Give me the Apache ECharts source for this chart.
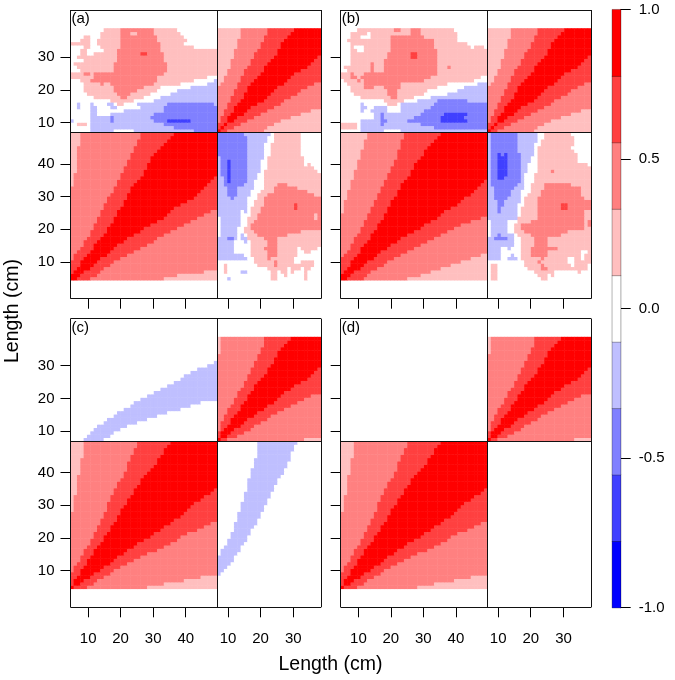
<!DOCTYPE html>
<html>
<head>
<meta charset="utf-8">
<style>html,body{margin:0;padding:0;background:#fff}#c{width:675px;height:680px}</style>
<script src="https://cdn.jsdelivr.net/npm/echarts@6/dist/echarts.min.js"></script>
</head>
<body>
<div id="c"></div>
<script>
// Colour bands (level -4..4, each 2/9 wide)
const BAND_COLORS = ['#0000FF','#4040FF','#8080FF','#BFBFFF','#FFFFFF','#FFBFBF','#FF8080','#FF4040','#FF0000'];
const BAR_TICKS = [-1,-0.5,0,0.5,1];

// Bin positions of tick marks; lengths in cm as labels
const X_TICK_POS = [5.3,15.0,24.75,34.5,47.15,56.9,66.7];
const Y_TICK_POS = [5.45,15.2,24.9,34.6,47.0,56.7,66.5];
const X_TICK_LAB = ['10','20','30','40','10','20','30'];
const Y_TICK_LAB = ['10','20','30','40','10','20','30'];

// Same-sex blocks: per row, first column whose band reaches level 2, 3, 4 (symmetric)
const FF_A2 = [0,0,0,0,0,0,0,0,0,0,0,0,0,0,0,0,0,0,0,0,0,0,0,0,0,0,0,0,1,1,1,1,2,2,2,2,2,2,2,2,3,3,3,3];
const FF_A3 = [0,0,0,0,0,0,1,1,2,3,4,4,5,6,6,7,7,8,8,9,9,10,10,11,11,12,13,13,14,14,15,15,16,16,17,17,18,18,19,19,20,20,21,21];
const FF_A4 = [0,0,1,2,3,3,4,5,6,7,7,8,9,10,11,11,12,13,13,14,14,15,16,16,17,17,18,18,19,20,21,22,22,23,23,24,24,25,26,27,28,29,30,31];
const FF_B2 = [0,0,0,0,0,0,0,0,0,0,0,0,0,0,0,0,0,0,0,0,1,1,1,1,2,2,2,3,3,3,4,4,4,5,5,5,6,6,6,7,7,7,8,8];
const FF_B3 = [0,0,0,0,0,0,0,1,2,3,3,4,4,5,6,6,7,7,8,8,9,9,10,10,11,11,12,12,13,13,14,14,15,15,16,16,17,17,17,18,18,18,19,19];
const FF_B4 = [0,0,1,2,3,3,4,5,6,6,7,8,9,9,10,11,11,12,13,13,14,14,15,15,16,17,17,18,18,19,20,21,21,22,22,23,24,25,25,26,27,28,29,30];
const FF_C2 = [0,0,0,0,0,0,0,0,0,0,0,0,0,0,0,0,0,0,0,0,0,0,0,1,1,1,1,1,2,2,2,2,2,2,3,3,3,3,3,4,4,4,4,4];
const FF_C3 = [0,0,0,0,0,1,1,2,3,3,4,4,5,6,6,7,7,8,8,9,9,10,10,11,11,11,12,12,13,13,14,14,15,16,16,17,17,17,18,18,19,19,20,20];
const FF_C4 = [0,1,1,2,3,3,4,5,5,6,7,7,8,9,10,10,11,12,12,13,14,14,15,15,16,17,17,18,19,19,20,21,21,22,23,24,25,26,26,27,28,28,29,30];

const MM_A2 = [0,0,0,0,0,0,0,0,0,0,0,0,0,0,1,2,2,3,3,4,4,4,5,5,5,6,6,6,7,7,7];
const MM_A3 = [0,0,0,1,1,2,2,3,3,4,4,5,5,6,6,7,7,8,8,9,10,10,11,11,12,13,13,14,14,15,15];
const MM_A4 = [0,1,2,3,3,4,5,5,6,7,8,8,9,9,10,11,12,13,14,14,15,16,17,18,18,19,19,20,21,22,23];
const MM_C2 = [0,0,0,0,0,0,0,0,0,0,0,0,0,0,0,0,0,0,0,0,0,0,0,0,0,0,1,1,1,1,1];
const MM_C3 = [0,0,0,1,1,1,2,2,3,3,4,5,5,6,6,7,8,8,9,9,10,10,11,11,12,12,13,13,14,14,14];
const MM_C4 = [0,1,1,2,3,4,4,5,6,7,7,8,9,9,10,11,11,12,13,14,15,15,16,17,17,18,18,19,20,21,22];

// Female x male blocks: for each male bin, [level, first female bin, end female bin]
const FM_A = [
 [[-1,6,13],[-1,19,44],[-2,37,44]],
 [[-1,6,44],[-2,31,44]],
 [[1,2,5],[-1,6,44],[-2,28,44]],
 [[-1,0,1],[-1,6,44],[-2,12,13],[-2,25,44],[-3,29,36]],
 [[-1,6,44],[-2,12,13],[-2,24,44]],
 [[-1,6,8],[-1,12,44],[-2,25,44]],
 [[-1,6,8],[-1,16,44],[-2,28,44]],
 [[-1,2,3],[-1,6,8],[-1,12,14],[-1,21,44],[-2,28,44]],
 [[-1,2,3],[-1,6,7],[-1,11,13],[1,14,16],[-1,20,44],[-2,29,43]],
 [[1,12,19],[-1,25,44]],
 [[1,7,22],[2,15,17],[-1,27,44]],
 [[1,5,24],[2,14,18],[-1,30,44]],
 [[1,4,26],[2,13,20],[-1,32,44]],
 [[1,4,27],[2,13,22],[-1,36,44]],
 [[1,4,33],[2,9,10],[2,12,25],[-1,41,44]],
 [[1,3,37],[2,6,26],[-1,43,44]],
 [[1,0,41],[2,7,26]],
 [[1,0,44],[2,4,6],[2,7,28]],
 [[1,3,44],[2,13,29]],
 [[1,2,44],[2,13,29]],
 [[1,1,44],[2,13,29]],
 [[1,4,44],[2,14,28]],
 [[1,2,44],[2,14,28]],
 [[1,3,5],[1,7,44],[2,14,28],[3,21,23]],
 [[1,3,5],[1,10,44],[2,14,27]],
 [[1,4,6],[1,9,37],[2,15,27]],
 [[1,0,6],[1,8,34],[2,15,27]],
 [[1,3,6],[1,8,35],[2,15,26]],
 [[1,4,6],[1,9,34],[2,15,26]],
 [[1,9,33],[2,15,25],[1,18,20]],
 [[1,10,32],[2,15,25]]
];
const FM_B = [
 [[-1,6,13],[-1,18,44]],
 [[1,0,5],[-1,6,44],[-2,28,44]],
 [[1,0,5],[-1,6,44],[-2,12,13],[-2,24,44]],
 [[-1,6,44],[-2,12,14],[-2,20,44],[-3,30,38]],
 [[-1,10,44],[-2,12,13],[-2,22,44],[-3,30,37]],
 [[-1,10,44],[-2,12,13],[-2,24,44],[-3,31,38]],
 [[-1,6,7],[-1,9,14],[-1,18,44],[-2,25,44]],
 [[-1,6,8],[-1,10,14],[-1,18,44],[-2,27,44]],
 [[-1,6,7],[1,14,17],[-1,18,44],[-2,28,44]],
 [[1,13,19],[-1,23,44],[-2,29,38]],
 [[1,6,22],[2,15,17],[-1,27,44]],
 [[1,4,25],[2,14,17],[-1,32,44]],
 [[1,3,26],[2,14,17],[-1,35,44]],
 [[1,3,29],[2,7,10],[2,13,18],[-1,37,44]],
 [[1,2,32],[2,7,18],[-1,41,44]],
 [[1,1,40],[2,5,6],[2,7,25]],
 [[1,0,42],[2,3,5],[2,6,27]],
 [[1,0,44],[2,3,4],[2,7,29]],
 [[1,2,44],[2,9,10],[2,13,29]],
 [[1,1,44],[2,9,10],[2,13,29],[2,32,33]],
 [[1,3,44],[2,9,10],[2,13,29]],
 [[1,3,44],[2,13,29]],
 [[1,3,44],[2,14,29],[3,21,23]],
 [[1,3,44],[2,14,29],[3,21,23]],
 [[1,3,5],[1,7,44],[2,15,29]],
 [[1,3,4],[1,7,39],[1,40,43],[2,15,28]],
 [[1,3,38],[2,15,28]],
 [[1,2,35],[2,15,28]],
 [[1,3,6],[1,9,35],[2,15,25]],
 [[1,3,8],[1,9,35],[2,21,24]],
 [[1,5,34],[2,16,18],[2,21,24]]
];
const FM_C = [
 [[-1,4,10]],[[-1,5,12]],[[-1,6,13]],[[-1,7,15]],[[-1,8,17]],[[-1,10,20]],[[-1,11,23]],[[-1,13,26]],
 [[-1,14,29]],[[-1,16,33]],[[-1,18,36]],[[-1,19,39]],[[-1,21,44]],[[-1,23,44]],[[-1,25,44]],[[-1,27,44]],
 [[-1,29,44]],[[-1,31,44]],[[-1,33,44]],[[-1,34,44]],[[-1,36,44]],[[-1,38,44]],[[-1,41,44]],[[-1,43,44]]
];
const FM_D = [];

const PANEL_TAGS = ['(a)','(b)','(c)','(d)'];
const AXIS_TITLE = 'Length (cm)';

const N_F = 44, N_M = 31, N = N_F + N_M, STEP = 2/9;
const PANELS = [
 {ff:[FF_A2,FF_A3,FF_A4], mm:[MM_A2,MM_A3,MM_A4], fm:FM_A, left:70.5,  top:10,    labX:false, labY:true},
 {ff:[FF_B2,FF_B3,FF_B4], mm:[MM_A2,MM_A3,MM_A4], fm:FM_B, left:340.7, top:10,    labX:false, labY:false},
 {ff:[FF_C2,FF_C3,FF_C4], mm:[MM_C2,MM_C3,MM_C4], fm:FM_C, left:70.5,  top:318.6, labX:true,  labY:true},
 {ff:[FF_C2,FF_C3,FF_C4], mm:[MM_C2,MM_C3,MM_C4], fm:FM_D, left:340.7, top:318.6, labX:true,  labY:false}
];
const YMIN = -5.5, YMAX = 80.5;

function wedge(e, a, b){
  const lo = Math.min(a,b), hi = Math.max(a,b);
  return lo < e[0][hi] ? 1 : lo < e[1][hi] ? 2 : lo < e[2][hi] ? 3 : 4;
}
function cross(fm, m, f){
  let lv = 0;
  for (const [l,s,t] of (fm[m] || [])) if (f >= s && f < t) lv = l;
  return lv;
}
function cells(p){
  const out = [];
  for (let y = 0; y < N; y++) for (let x = 0; x < N; x++) {
    let lv;
    if (x < N_F && y < N_F) lv = wedge(p.ff, x, y);
    else if (x >= N_F && y >= N_F) lv = wedge(p.mm, x-N_F, y-N_F);
    else if (x < N_F) lv = cross(p.fm, y-N_F, x);
    else lv = cross(p.fm, x-N_F, y);
    out.push([x+0.5, y+0.5, lv*STEP]);
  }
  return out;
}
function frameLines(){
  const seg = (a,b,c,d)=>[{coord:[a,b]},{coord:[c,d]}];
  return [seg(0,YMIN,N,YMIN),seg(0,YMAX,N,YMAX),seg(0,YMIN,0,YMAX),seg(N,YMIN,N,YMAX),
          seg(N_F,YMIN,N_F,YMAX),seg(0,N_F,N,N_F)];
}

const FONT = '"Liberation Sans", Arial, sans-serif';
const grids=[], xAxes=[], yAxes=[], series=[], graphics=[];
PANELS.forEach((p,i)=>{
  grids.push({left:p.left, top:p.top, width:250.5, height:288.7, containLabel:false});
  xAxes.push({type:'value', gridIndex:i, min:0, max:N, splitLine:{show:false}, axisLine:{show:false,onZero:false},
    axisTick:{show:true, length:10, customValues:X_TICK_POS, lineStyle:{color:'#000',width:1}},
    axisLabel:{show:p.labX, customValues:X_TICK_POS, margin:24, color:'#000', fontSize:15, fontFamily:FONT,
      formatter:v=>X_TICK_LAB[X_TICK_POS.indexOf(v)]}});
  yAxes.push({type:'value', gridIndex:i, min:YMIN, max:YMAX, splitLine:{show:false}, axisLine:{show:false,onZero:false},
    axisTick:{show:true, length:10, customValues:Y_TICK_POS, lineStyle:{color:'#000',width:1}},
    axisLabel:{show:p.labY, customValues:Y_TICK_POS, margin:16, color:'#000', fontSize:15, fontFamily:FONT,
      formatter:v=>Y_TICK_LAB[Y_TICK_POS.indexOf(v)]}});
  series.push({type:'heatmap', xAxisIndex:i, yAxisIndex:i, data:cells(p), silent:true, progressive:0, animation:false});
  series.push({type:'line', xAxisIndex:i, yAxisIndex:i, data:[], silent:true, animation:false, z:6,
    markLine:{silent:true, animation:false, symbol:'none', label:{show:false}, lineStyle:{color:'#111',width:1,type:'solid'}, data:frameLines()}});
  graphics.push({type:'text', z:20, x:p.left+1, y:p.top+9, style:{text:PANEL_TAGS[i], font:'15px '+FONT, fill:'#000', verticalAlign:'middle'}});
});

// Colour bar as its own grid
const barIdx = PANELS.length;
const BAR_CATS = BAND_COLORS.map((_,k)=>String(k-4));
grids.push({left:612.3, top:9.7, width:8.4, height:598});
xAxes.push({type:'category', gridIndex:barIdx, data:[''], show:false});
yAxes.push({type:'category', gridIndex:barIdx, data:BAR_CATS, show:false});
yAxes.push({type:'value', gridIndex:barIdx, position:'right', min:-1, max:1, interval:0.5, splitLine:{show:false},
  axisLine:{show:true, onZero:false, lineStyle:{color:'#000',width:1}}, axisTick:{show:true, length:10, lineStyle:{color:'#000'}},
  axisLabel:{show:true, margin:18, color:'#000', fontSize:15, fontFamily:FONT, formatter:v=>v.toFixed(1)}});
series.push({type:'heatmap', xAxisIndex:barIdx, yAxisIndex:barIdx, silent:true, progressive:0, animation:false,
  itemStyle:{borderColor:'rgba(0,0,0,0.5)', borderWidth:0.6},
  data:BAR_CATS.map((c,k)=>[0,k,(k-4)*STEP])});

graphics.push({type:'text', x:330.5, y:665, z:20, style:{text:AXIS_TITLE, font:'19.5px '+FONT, fill:'#000', align:'center', verticalAlign:'middle'}});
graphics.push({type:'text', x:13, y:311, rotation:Math.PI/2, z:20, style:{text:AXIS_TITLE, font:'19.5px '+FONT, fill:'#000', align:'center', verticalAlign:'middle'}});

const pieces = BAND_COLORS.map((color,k)=>({min:-1+k*STEP, max:-1+(k+1)*STEP, color}));
const chart = echarts.init(document.getElementById('c'), null, {renderer:'canvas'});
chart.setOption({
  animation:false, backgroundColor:'#fff',
  grid:grids, xAxis:xAxes, yAxis:yAxes, series:series, graphic:graphics,
  visualMap:{type:'piecewise', show:false, dimension:2, seriesIndex:[0,2,4,6,8], pieces:pieces}
});
</script>
</body>
</html>
